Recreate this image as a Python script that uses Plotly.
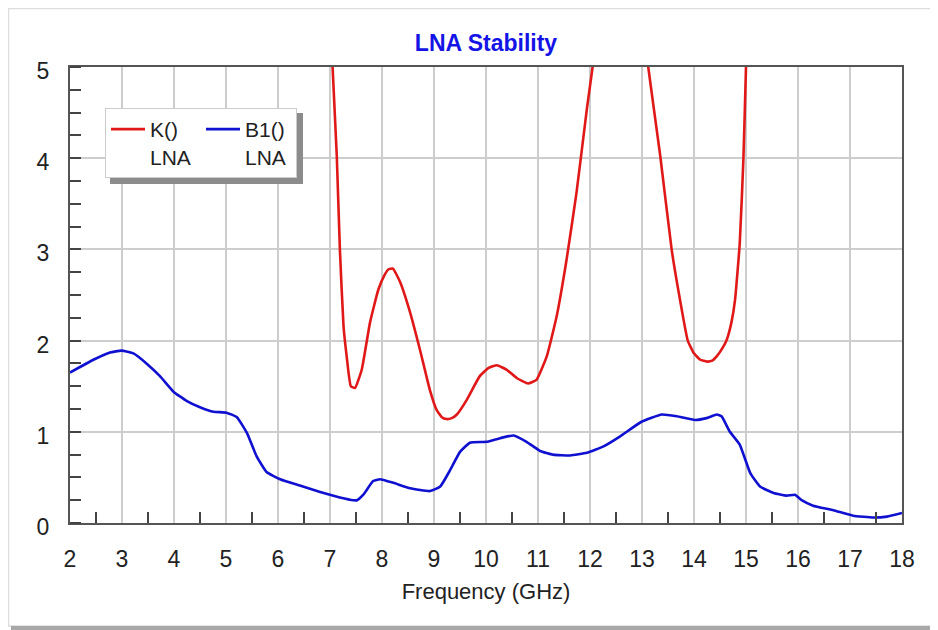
import plotly.graph_objects as go

# ---- data ----
k_freq = [7.0, 7.13, 7.19, 7.26, 7.32, 7.40, 7.48, 7.61, 7.77, 7.93, 8.05, 8.12, 8.21,
          8.35, 8.54, 8.73, 8.92, 9.05, 9.15, 9.24, 9.34, 9.44, 9.63, 9.88, 10.05,
          10.21, 10.40, 10.59, 10.81, 10.97, 11.17, 11.36, 11.55, 11.74, 11.94, 12.05,
          12.15, 12.6, 13.05, 13.12, 13.35, 13.57, 13.73, 13.88, 14.0, 14.12, 14.25,
          14.35, 14.44, 14.55, 14.63, 14.72, 14.79, 14.88, 14.95, 15.0, 15.03]
k_vals = [5.6, 4.03, 3.0, 2.16, 1.83, 1.50, 1.48, 1.68, 2.2, 2.56, 2.72, 2.78, 2.79,
          2.64, 2.31, 1.90, 1.46, 1.24, 1.16, 1.14, 1.15, 1.19, 1.35, 1.61, 1.70,
          1.73, 1.68, 1.59, 1.53, 1.57, 1.83, 2.27, 2.89, 3.62, 4.54, 5.0,
          5.5, 7.0, 5.4, 5.0, 4.03, 3.0, 2.45, 2.0, 1.86, 1.79, 1.77,
          1.78, 1.83, 1.92, 2.01, 2.2, 2.45, 3.07, 3.99, 5.0, 5.8]

b1_freq = [2.0, 2.45, 2.77, 2.99, 3.22, 3.47, 3.73, 3.99, 4.24, 4.5, 4.76, 5.01, 5.21,
           5.40, 5.59, 5.78, 6.04, 6.42, 6.81, 7.19, 7.45, 7.52, 7.64, 7.83, 7.96,
           8.22, 8.54, 8.92, 9.12, 9.31, 9.5, 9.69, 10.01, 10.27, 10.53, 10.78, 11.04,
           11.29, 11.62, 11.94, 12.26, 12.58, 12.99, 13.38, 13.67, 14.02, 14.24, 14.44,
           14.53, 14.69, 14.88, 15.08, 15.27, 15.53, 15.78, 15.94, 16.07, 16.29, 16.68,
           17.06, 17.45, 17.71, 18.0]
b1_vals = [1.65, 1.79, 1.87, 1.89, 1.86, 1.75, 1.61, 1.44, 1.34, 1.27, 1.22, 1.21, 1.16,
           0.99, 0.73, 0.56, 0.48, 0.41, 0.34, 0.28, 0.25, 0.25, 0.31, 0.46, 0.48,
           0.44, 0.38, 0.35, 0.40, 0.58, 0.78, 0.88, 0.89, 0.93, 0.96, 0.89, 0.79,
           0.75, 0.74, 0.77, 0.84, 0.95, 1.11, 1.19, 1.17, 1.13, 1.15, 1.19,
           1.17, 1.00, 0.86, 0.55, 0.40, 0.33, 0.30, 0.31, 0.25, 0.19, 0.14,
           0.08, 0.06, 0.07, 0.11]

k_name = "K()<br>LNA"
b1_name = "B1()<br>LNA"
title_text = "LNA Stability"
x_title = "Frequency (GHz)"
x_ticks = list(range(2, 19))
y_ticks = [0, 1, 2, 3, 4, 5]

# ---- layout geometry (page has an 8px body margin) ----
OFF = 8
W, H = 938 - OFF, 630 - OFF
L, R, T, B = 62, 36, 59, 107
PW, PH = W - L - R, H - T - B


def px(x):
    """reference-window x pixel -> paper coordinate"""
    return (x - OFF - L) / PW


def py(y):
    """reference-window y pixel -> paper coordinate"""
    return (H - B - (y - OFF)) / PH


FONT = "Liberation Sans, Arial, sans-serif"

fig = go.Figure()
fig.add_trace(go.Scatter(x=k_freq, y=k_vals, mode="lines", name=k_name,
                         line=dict(color="#e01818", width=2.6, shape="spline", smoothing=0.4)))
fig.add_trace(go.Scatter(x=b1_freq, y=b1_vals, mode="lines", name=b1_name,
                         line=dict(color="#1010d0", width=2.6, shape="spline", smoothing=0.4)))

axis_common = dict(showline=True, linecolor="#555555", linewidth=2, mirror=True,
                   showgrid=True, gridcolor="#cdcdcd", gridwidth=1.5, ticks="",
                   zeroline=False, tickfont=dict(family=FONT, size=23, color="#222222"))

fig.update_xaxes(range=[2, 18], tickvals=x_ticks, ticklabelstandoff=14,
                 minor=dict(tick0=2.5, dtick=1, ticks="inside", ticklen=11,
                            tickcolor="#444444", tickwidth=1.5, showgrid=False),
                 title=dict(text=x_title, font=dict(family=FONT, size=22, color="#222222"),
                            standoff=13),
                 **axis_common)
fig.update_yaxes(range=[0, 5], tickvals=y_ticks, ticklabelstandoff=14, ticklabelshift=4,
                 minor=dict(tick0=0, dtick=0.25, ticks="inside", ticklen=11,
                            tickcolor="#444444", tickwidth=1.5, showgrid=False),
                 **axis_common)

shapes = [
    # outer frame
    dict(type="rect", xref="paper", yref="paper", x0=px(8.5), x1=px(960), y0=py(8.5), y1=py(626),
         line=dict(color="#dddddd", width=1.5), fillcolor="rgba(0,0,0,0)", layer="below"),
    dict(type="rect", xref="paper", yref="paper", x0=px(11), x1=px(960), y0=py(626), y1=py(640),
         line=dict(width=0), fillcolor="#a8a8a8", layer="below"),
    # legend shadow
    dict(type="rect", xref="paper", yref="paper", x0=px(110), x1=px(303), y0=py(113), y1=py(184),
         line=dict(width=0), fillcolor="#8c8c8c", layer="above"),
]

fig.update_layout(
    width=W, height=H,
    margin=dict(l=L, r=R, t=T, b=B),
    paper_bgcolor="white", plot_bgcolor="white",
    title=dict(text="<b>" + title_text + "</b>", x=0.5, xref="paper", xanchor="center",
               y=1 - (43 - OFF) / H, yref="container", yanchor="middle",
               font=dict(family=FONT, size=23, color="#1414e6")),
    showlegend=True,
    legend=dict(orientation="h", x=px(105), y=py(108), xanchor="left", yanchor="top",
                bgcolor="white", bordercolor="#cccccc", borderwidth=1,
                font=dict(family=FONT, size=21, color="#222222"),
                valign="top", entrywidth=46, entrywidthmode="pixels", itemwidth=34),
    shapes=shapes,
)

fig.write_html("out.html")
